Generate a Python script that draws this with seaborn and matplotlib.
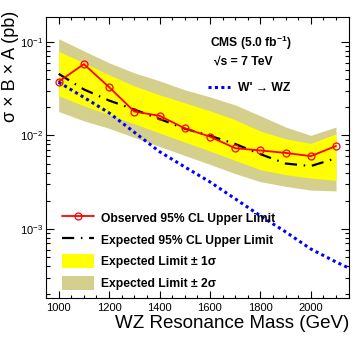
import numpy as np
import seaborn as sns
import matplotlib
matplotlib.use("Agg")
import matplotlib.pyplot as plt
from matplotlib.lines import Line2D
from matplotlib.patches import Patch
from matplotlib.ticker import MultipleLocator, LogLocator, NullFormatter

# datos (masa en GeV, limites en pb)
masa = [1000, 1100, 1200, 1300, 1400, 1500, 1600, 1700, 1800, 1900, 2000, 2100]
observado = [0.0376, 0.0577, 0.0328, 0.0180, 0.0162, 0.0119, 0.0097, 0.0073, 0.0069, 0.0065, 0.0060, 0.0077]
esperado = [0.0455, 0.0310, 0.0236, 0.0189, 0.0150, 0.0118, 0.0099, 0.0081, 0.0063, 0.0050, 0.0047, 0.0057]
sig1_arriba = [0.079, 0.0597, 0.0444, 0.0338, 0.0271, 0.0223, 0.0183, 0.0147, 0.0111, 0.0092, 0.0082, 0.0104]
sig1_abajo = [0.0265, 0.0207, 0.0166, 0.0133, 0.0106, 0.0085, 0.0068, 0.0054, 0.0043, 0.0038, 0.0035, 0.0033]
sig2_arriba = [0.108, 0.080, 0.0597, 0.0466, 0.0383, 0.0307, 0.0258, 0.0212, 0.0162, 0.0123, 0.0100, 0.0123]
sig2_abajo = [0.0180, 0.0143, 0.0119, 0.0095, 0.0076, 0.0061, 0.0049, 0.0039, 0.0032, 0.00285, 0.0026, 0.00255]

masa_wp = [1000, 1100, 1200, 1300, 1400, 1500, 1600, 1700, 1800, 1900, 2000, 2100, 2200]
xsec_wp = [0.037, 0.0255, 0.0174, 0.0108, 0.0067, 0.0046, 0.00318, 0.0021, 0.00138, 0.00093, 0.00061, 0.000443, 0.00033]

amarillo = "#ffff00"
beige = "#d4cf8c"

sns.set_style("ticks")
plt.rcParams['font.family'] = ['Liberation Sans', 'DejaVu Sans']
plt.rcParams['mathtext.fontset'] = 'custom'
plt.rcParams['mathtext.rm'] = 'Liberation Sans'
plt.rcParams['mathtext.bf'] = 'Liberation Sans:bold'
plt.rcParams['text.color'] = 'black'
plt.rcParams['axes.labelcolor'] = 'black'
plt.rcParams['xtick.color'] = 'black'
plt.rcParams['ytick.color'] = 'black'
plt.rcParams['axes.edgecolor'] = 'black'

fig = plt.figure(figsize=(3.57, 3.44), dpi=100)
ax = fig.add_axes([0.129, 0.134, 0.849, 0.817])

# bandas
ax.fill_between(masa, sig2_abajo, sig2_arriba, color=beige, lw=0)
ax.fill_between(masa, sig1_abajo, sig1_arriba, color=amarillo, lw=0)

estilo_esp = (0, (5.5, 3, 0.7, 3))
sns.lineplot(x=masa, y=esperado, ax=ax, color='black', lw=1.6, linestyle=estilo_esp)
sns.lineplot(x=masa, y=observado, ax=ax, color='red', lw=1.3, marker='o', markersize=5,
             markerfacecolor='none', markeredgecolor='red', markeredgewidth=0.9)
sns.lineplot(x=masa_wp, y=xsec_wp, ax=ax, color='#0000ff', lw=2.2, linestyle=(0, (1, 1.1)))

ax.set_yscale('log')
ax.set_xlim(950, 2152)
ax.set_ylim(1.83e-4, 0.185)

ax.xaxis.set_major_locator(MultipleLocator(200))
ax.xaxis.set_minor_locator(MultipleLocator(50))
ax.yaxis.set_major_locator(LogLocator(base=10))
ax.yaxis.set_minor_locator(LogLocator(base=10, subs=np.arange(2, 10)))
ax.yaxis.set_minor_formatter(NullFormatter())

ax.tick_params(which='both', direction='in', top=True, right=True, labelsize=8, width=0.8)
ax.tick_params(axis='x', which='major', length=5, pad=4)
ax.tick_params(axis='x', which='minor', length=2.5)
ax.tick_params(axis='y', which='major', length=6, pad=2)
ax.tick_params(axis='y', which='minor', length=3)
for s in ax.spines.values():
    s.set_linewidth(0.8)

ax.set_xlabel('WZ Resonance Mass (GeV)', fontsize=13.5, loc='right')
ax.xaxis.set_label_coords(1.0, -0.06)
ax.set_ylabel('σ × B × A (pb)', fontsize=13, loc='top')
ax.yaxis.set_label_coords(-0.088, 1.02)

# textos CMS
ax.text(0.677, 0.907, 'CMS (5.0 fb$^{\\mathbf{-1}}$)', transform=ax.transAxes,
        ha='center', va='center', fontsize=8.7, fontweight='bold')
ax.text(0.65, 0.84, '√s = 7 TeV', transform=ax.transAxes,
        ha='center', va='center', fontsize=8.7, fontweight='bold')

# leyenda W'
h_wp = [Line2D([], [], color='#0000ff', lw=2.2, linestyle=(0, (1, 1.1)))]
leg_wp = ax.legend(h_wp, ["W' → WZ"], loc='center left', bbox_to_anchor=(0.535, 0.747),
                   frameon=False, borderpad=0, borderaxespad=0, handlelength=1.8,
                   handletextpad=0.68, prop={'size': 8.7, 'weight': 'bold'})
ax.add_artist(leg_wp)

# leyenda principal
handles = [
    Line2D([], [], color='red', lw=1.3, marker='o', markersize=5, markerfacecolor='none',
           markeredgecolor='red', markeredgewidth=0.9),
    Line2D([], [], color='black', lw=1.6, linestyle=estilo_esp),
    Patch(facecolor=amarillo, edgecolor='none'),
    Patch(facecolor=beige, edgecolor='none'),
]
labels = ['Observed 95% CL Upper Limit', 'Expected 95% CL Upper Limit',
          'Expected Limit ± 1σ', 'Expected Limit ± 2σ']
ax.legend(handles, labels, loc='upper left', bbox_to_anchor=(0.053, 0.31),
          frameon=False, borderpad=0, borderaxespad=0, handlelength=2.6, handleheight=1.45,
          handletextpad=0.6, labelspacing=0.6, prop={'size': 8.7, 'weight': 'bold'})

plt.savefig('out.png', dpi=100)
